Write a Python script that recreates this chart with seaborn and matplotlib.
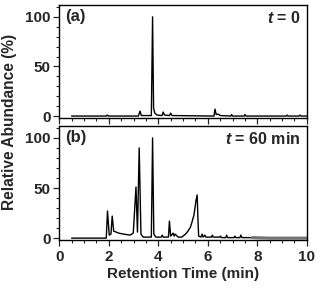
import pandas as pd
import matplotlib
matplotlib.use('Agg')
import matplotlib.pyplot as plt
import seaborn as sns
from matplotlib.ticker import MultipleLocator

# Cromatograma (a): t = 0  (tempo em min, abundancia em %)
time_a = [0.5, 1.9, 1.94, 1.98, 3.2, 3.26, 3.32, 3.72, 3.77, 3.81, 3.86, 3.95,
          4.15, 4.2, 4.25, 4.45, 4.5, 4.55, 6.25, 6.29, 6.34, 6.42, 6.5, 6.93,
          6.96, 7.0, 7.47, 7.5, 7.54, 9.17, 9.2, 9.24, 9.69, 9.72, 9.76, 10.0]
abund_a = [0, 0, 1, 0, 0, 5, 0.5, 0.5, 100, 8, 3, 1,
           0.5, 4, 1, 0.5, 3, 0.5, 0, 7, 1.5, 2, 0.5, 0,
           1.5, 0, 0, 1.5, 0, 0, 1, 0, 0, 1, 0, 0]

# Cromatograma (b): t = 60 min
time_b = [0.5, 1.9, 1.95, 2.02, 2.09, 2.14, 2.2, 2.4, 2.6, 2.86, 2.99, 3.1,
          3.16, 3.23, 3.3, 3.39, 3.72, 3.77, 3.82, 3.9, 4.12, 4.16, 4.2, 4.41,
          4.45, 4.5, 4.6, 4.64, 4.68, 4.8, 4.95, 5.0, 5.1, 5.2, 5.3, 5.35, 5.44,
          5.52, 5.57, 5.6, 5.63, 5.72, 5.77, 5.81, 5.88, 5.92, 6.15, 6.18, 6.22,
          6.48, 6.51, 6.55, 6.73, 6.76, 6.8, 7.06, 7.09, 7.13, 7.3, 7.33, 7.38,
          7.8, 8.5, 9.2, 10.0]
abund_b = [0, 0, 27, 3, 4, 22, 7, 5, 4, 3, 5, 51,
           6, 90, 4, 1, 1, 100, 4, 1, 1, 3, 1, 1,
           17, 2, 5, 2, 4, 1, 1, 2, 4, 7, 11, 15, 23,
           37, 43, 20, 2, 1, 4, 1, 3, 1, 1, 3, 1,
           1, 2, 0.5, 0.5, 3, 0.5, 0.5, 2, 0.5, 0.5, 3, 0.5,
           0.5, 0, 0, 0]

panel_tags = ['(a)', '(b)']
panel_times = ['$t$ = 0', '$t$ = 60 min']

sns.set_style('ticks')
plt.rcParams['font.family'] = ['Liberation Sans', 'DejaVu Sans']
plt.rcParams['font.weight'] = 'bold'
plt.rcParams['mathtext.fontset'] = 'custom'
plt.rcParams['mathtext.it'] = 'Liberation Sans:italic:bold'
plt.rcParams['mathtext.rm'] = 'Liberation Sans:bold'
plt.rcParams['axes.linewidth'] = 1.0
plt.rcParams['axes.edgecolor'] = 'black'

df_a = pd.DataFrame({'t': time_a, 'y': abund_a})
df_b = pd.DataFrame({'t': time_b, 'y': abund_b})

fig = plt.figure(figsize=(3.2, 2.9), dpi=100)
ax_a = fig.add_axes([0.185, 0.593, 0.774, 0.390])
ax_b = fig.add_axes([0.185, 0.172, 0.774, 0.394])

sns.lineplot(data=df_a, x='t', y='y', ax=ax_a, color='black', lw=1.0, estimator=None, sort=False)
sns.lineplot(data=df_b, x='t', y='y', ax=ax_b, color='black', lw=1.0, estimator=None, sort=False)
# ruido da linha de base no fim da corrida (b)
sns.lineplot(data=df_b[df_b['t'] >= 7.8], x='t', y='y', ax=ax_b, color='0.45', lw=2.2,
             estimator=None, sort=False)

for i, ax in enumerate([ax_a, ax_b]):
    ax.set_xlim(0, 10)
    ax.set_ylim(-2, 112)
    ax.set_yticks([0, 50, 100])
    ax.yaxis.set_minor_locator(MultipleLocator(10))
    ax.xaxis.set_major_locator(MultipleLocator(2))
    ax.xaxis.set_minor_locator(MultipleLocator(0.5))
    ax.tick_params(which='major', direction='out', length=4, width=0.9, labelsize=11, pad=2)
    ax.tick_params(axis='x', which='major', pad=3)
    ax.tick_params(which='minor', direction='out', length=2.5, width=0.8)
    for sp in ax.spines.values():
        sp.set_visible(True)
        sp.set_linewidth(1.0)
    ax.set_xlabel('')
    ax.set_ylabel('')
    ax.text(0.025, 0.965, panel_tags[i], transform=ax.transAxes, ha='left', va='top',
            fontsize=12, fontweight='bold')
    ax.text(0.975, 0.955, panel_times[i], transform=ax.transAxes, ha='right', va='top',
            fontsize=11.5, fontweight='bold')

ax_a.tick_params(axis='x', labelbottom=False)
ax_b.set_xlabel('Retention Time (min)', fontsize=11, fontweight='bold', labelpad=2)
fig.text(0.03, 0.578, 'Relative Abundance (%)', rotation=90, ha='center', va='center',
         fontsize=11.2, fontweight='bold')

fig.savefig('out.png', dpi=100)
